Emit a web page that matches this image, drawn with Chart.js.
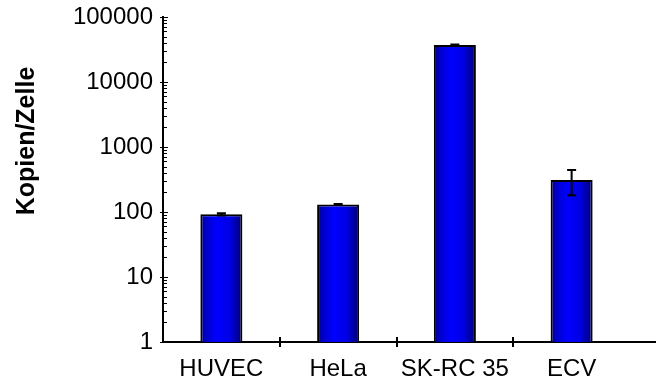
<!DOCTYPE html>
<html>
<head>
<meta charset="utf-8">
<script src="https://cdn.jsdelivr.net/npm/chart.js@4.4.1/dist/chart.umd.min.js"></script>
<style>
  html, body { margin: 0; padding: 0; background: #ffffff; }
  #wrap { width: 656px; height: 383px; position: relative; }
</style>
</head>
<body>
<div id="wrap"><canvas id="c" width="656" height="383"></canvas></div>
<script>
// Copy numbers per cell for four cell lines (log scale)
const cellLines = ['HUVEC', 'HeLa', 'SK-RC 35', 'ECV'];
const copiesPerCell = [92, 131, 37100, 311];
const copiesError = [4, 2, 800, 130];
const yTickLabels = ['1', '10', '100', '1000', '10000', '100000'];
const yAxisTitle = 'Kopien/Zelle';

const FONT = '"Liberation Sans", Arial, Helvetica, sans-serif';

// Horizontal shading of each bar: dark edges, bright blue core
function barFill(ctx) {
  const chart = ctx.chart;
  const xs = chart.scales && chart.scales.x;
  if (!chart.chartArea || !xs || ctx.dataIndex === undefined) return '#0000ff';
  const cx = xs.getPixelForValue(ctx.dataIndex);
  const half = (xs.width / cellLines.length) * 0.36 / 2;
  const g = chart.ctx.createLinearGradient(cx - half, 0, cx + half, 0);
  g.addColorStop(0, '#000088');
  g.addColorStop(0.15, '#0000cc');
  g.addColorStop(0.4, '#0000ff');
  g.addColorStop(0.7, '#0000e4');
  g.addColorStop(1, '#000070');
  return g;
}

// Axis furniture: log ticks on the value axis, crossing ticks between
// categories, error bars and the rotated axis title
const decor = {
  id: 'decor',
  afterDatasetsDraw(chart) {
    const { ctx, chartArea } = chart;
    const x = chart.scales.x, y = chart.scales.y;
    ctx.save();
    ctx.strokeStyle = '#000';
    ctx.fillStyle = '#000';

    // error bars
    ctx.lineWidth = 2;
    copiesPerCell.forEach((v, i) => {
      const cx = x.getPixelForValue(i);
      const top = y.getPixelForValue(v + copiesError[i]);
      const bot = y.getPixelForValue(v - copiesError[i]);
      ctx.beginPath();
      ctx.moveTo(cx, top); ctx.lineTo(cx, bot);
      ctx.moveTo(cx - 4.5, top); ctx.lineTo(cx + 4.5, top);
      ctx.moveTo(cx - 4.5, bot); ctx.lineTo(cx + 4.5, bot);
      ctx.stroke();
    });

    // value axis ticks (decades cross the axis, sub-decades point inward)
    const ax = chartArea.left;
    ctx.lineWidth = 1.2;
    ctx.beginPath();
    for (let e = 0; e < yTickLabels.length; e++) {
      const base = Math.pow(10, e);
      const py = Math.round(y.getPixelForValue(base)) + 0.5;
      ctx.moveTo(ax - 3, py); ctx.lineTo(ax + 5, py);
      if (e === yTickLabels.length - 1) break;
      for (let m = 2; m <= 9; m++) {
        const pm = Math.round(y.getPixelForValue(m * base)) + 0.5;
        ctx.moveTo(ax, pm); ctx.lineTo(ax + 4, pm);
      }
    }
    ctx.stroke();

    // category separators crossing the baseline
    const by = chartArea.bottom;
    ctx.lineWidth = 2;
    ctx.beginPath();
    for (let i = 1; i < cellLines.length; i++) {
      const px = Math.round((x.getPixelForValue(i - 1) + x.getPixelForValue(i)) / 2);
      ctx.moveTo(px, by - 5); ctx.lineTo(px, by + 5);
    }
    // baseline continues to the right edge
    ctx.moveTo(chartArea.right, by); ctx.lineTo(chart.width, by);
    ctx.stroke();

    // rotated axis title
    ctx.translate(27, 141);
    ctx.rotate(-Math.PI / 2);
    ctx.font = 'bold 25px ' + FONT;
    ctx.textAlign = 'center';
    ctx.textBaseline = 'middle';
    ctx.fillText(yAxisTitle, 0, 0);
    ctx.restore();
  }
};

new Chart(document.getElementById('c'), {
  type: 'bar',
  data: {
    labels: cellLines,
    datasets: [{
      data: copiesPerCell,
      backgroundColor: barFill,
      borderColor: '#000000',
      borderWidth: 2,
      borderSkipped: 'start',
      categoryPercentage: 1.0,
      barPercentage: 0.36
    }]
  },
  options: {
    responsive: false,
    animation: false,
    devicePixelRatio: 1,
    layout: { padding: { top: 17, right: 26, left: 0, bottom: 0 } },
    plugins: { legend: { display: false }, tooltip: { enabled: false } },
    scales: {
      x: {
        type: 'category',
        grid: { display: false, drawTicks: false },
        border: { display: true, color: '#000', width: 2 },
        ticks: { color: '#000', font: { family: FONT, size: 24 }, padding: 13, maxRotation: 0 },
        afterFit: s => { s.height = 41; s.paddingLeft = 0; s.paddingRight = 0; }
      },
      y: {
        type: 'logarithmic',
        min: 1,
        max: 100000,
        grid: { display: false, drawTicks: false },
        border: { display: true, color: '#000', width: 2 },
        ticks: {
          color: '#000',
          font: { family: FONT, size: 24 },
          padding: 10,
          autoSkip: false,
          callback: function (value) {
            const e = Math.log10(value);
            return Math.abs(e - Math.round(e)) < 1e-6 ? yTickLabels[Math.round(e)] : '';
          }
        },
        afterFit: s => { s.width = 163; s.paddingTop = 0; s.paddingBottom = 0; }
      }
    }
  },
  plugins: [decor]
});
</script>
</body>
</html>
